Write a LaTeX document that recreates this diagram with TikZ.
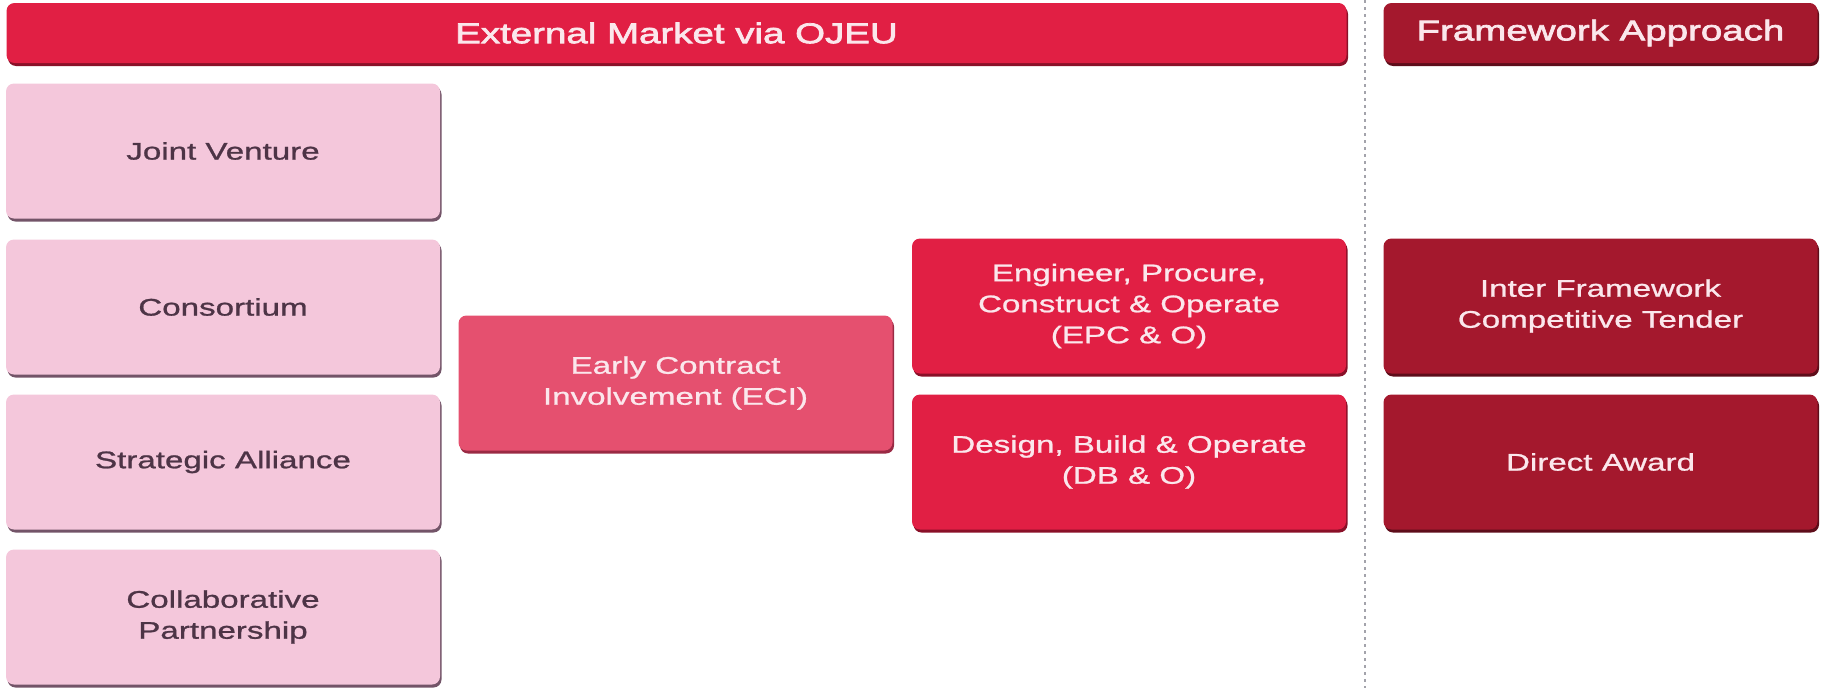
\documentclass[tikz,border=0pt]{standalone}
\usepackage{fontspec}
\setmainfont{Liberation Sans}[FakeStretch=1.38, FakeBold=1]
\newfontfamily\barfont{Liberation Sans}[FakeStretch=1.35, FakeBold=2.5]
\usetikzlibrary{shadows}
\definecolor{pinkbox}{HTML}{F4C7DB}
\definecolor{pinkshadow}{HTML}{735468}
\definecolor{pinktext}{HTML}{4D3446}
\definecolor{ecibox}{HTML}{E5506F}
\definecolor{ecishadow}{HTML}{9A2A44}
\definecolor{redbox}{HTML}{E11F44}
\definecolor{redshadow}{HTML}{8A1028}
\definecolor{darkbox}{HTML}{A4182D}
\definecolor{darkshadow}{HTML}{5E0D1A}
\definecolor{lighttext}{HTML}{FBE7EC}
\definecolor{divider}{HTML}{A3A3AB}
\tikzset{
  basebox/.style={rectangle, rounded corners=8pt, inner sep=0pt, align=center,
    font=\fontsize{24}{31}\selectfont, minimum width=434pt, minimum height=135pt},
  pinkstyle/.style={basebox, fill=pinkbox, text=pinktext,
    general shadow={fill=pinkshadow, shadow xshift=1.5pt, shadow yshift=-3pt}},
  ecistyle/.style={basebox, fill=ecibox, text=lighttext,
    general shadow={fill=ecishadow, shadow xshift=1.5pt, shadow yshift=-3pt}},
  redstyle/.style={basebox, fill=redbox, text=lighttext,
    general shadow={fill=redshadow, shadow xshift=1.5pt, shadow yshift=-3pt}},
  darkstyle/.style={basebox, fill=darkbox, text=lighttext,
    general shadow={fill=darkshadow, shadow xshift=1.5pt, shadow yshift=-3pt}},
  barstyle/.style={font=\barfont\fontsize{28.5}{34}\selectfont, minimum height=60pt}
}
\begin{document}
\begin{tikzpicture}[x=1pt, y=-1pt]
\useasboundingbox (0,0) rectangle (1825,688);
% header bars
\node[redstyle, barstyle, minimum width=1340pt] (ext) at (676.5,33) {External Market via OJEU};
\node[darkstyle, barstyle, minimum width=434pt] (fw) at (1600.5,33) {Framework Approach};
% divider
\coordinate (dtop) at (1365,0);
\coordinate (dbot) at (1365,688);
\draw[divider, line width=2.6pt, dash pattern=on 3pt off 4pt] (dtop) -- (dbot);
% left column
\node[pinkstyle] (jv) at (223,151) {Joint Venture};
\node[pinkstyle] (cons) at (223,307) {Consortium};
\node[pinkstyle] (sa) at (223,462) {Strategic Alliance};
\node[pinkstyle] (cp) at (223,617) {Collaborative\\Partnership};
% middle
\node[ecistyle] (eci) at (675.5,383) {Early Contract\\Involvement (ECI)};
\node[redstyle] (epc) at (1129,306) {Engineer, Procure,\\Construct \& Operate\\(EPC \& O)};
\node[redstyle] (dbo) at (1129,462) {Design, Build \& Operate\\(DB \& O)};
% framework
\node[darkstyle] (ifct) at (1600.5,306) {Inter Framework\\Competitive Tender};
\node[darkstyle] (da) at (1600.5,462) {Direct Award};
\end{tikzpicture}
\end{document}
